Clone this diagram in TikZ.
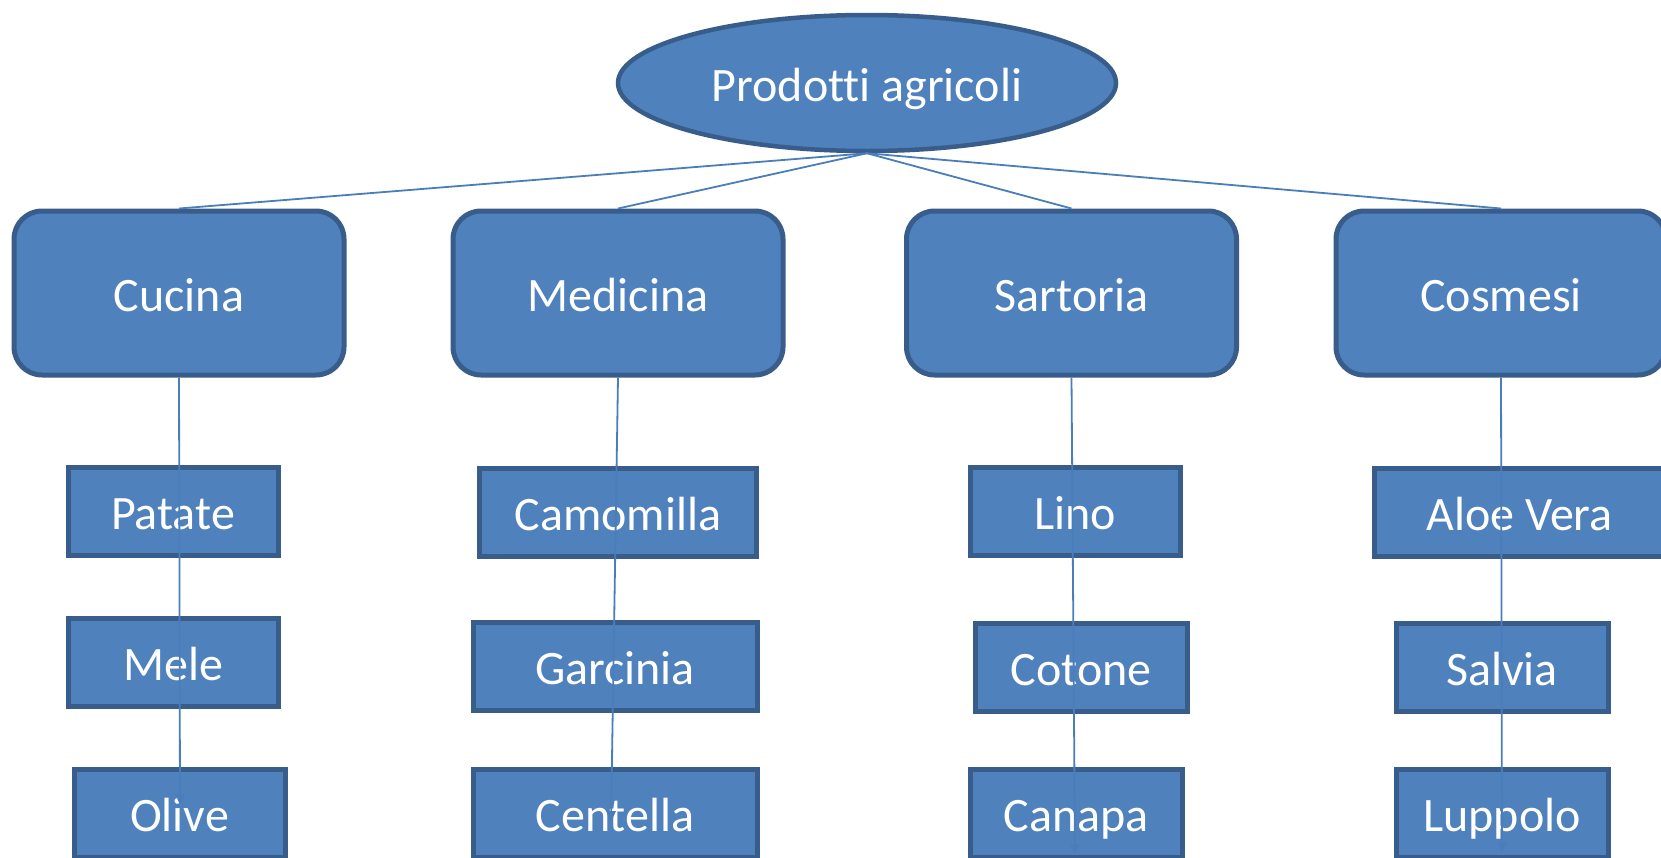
\documentclass[tikz,border=0pt]{standalone}
\usepackage{fontspec}
\setmainfont{Carlito}[Ligatures=NoCommon]
\usetikzlibrary{shapes.geometric,arrows.meta}
\definecolor{boxfill}{HTML}{4F81BD}
\definecolor{boxline}{HTML}{385D8A}
\definecolor{conn}{HTML}{4A7EBB}
\tikzset{
  txt/.style={text=white, font=\fontsize{48}{58}\selectfont, inner sep=0pt, text height=46pt, text depth=10pt},
  rootnode/.style={txt, ellipse, draw=boxline, fill=boxfill, line width=4.5pt},
  catbox/.style={txt, rectangle, rounded corners=28pt, draw=boxline, fill=boxfill, line width=5pt, minimum width=330pt, minimum height=164pt},
  itembox/.style={txt, rectangle, draw=boxline, fill=boxfill, line width=5pt, minimum height=88pt},
  link/.style={draw=conn, line width=1.8pt},
  arrowlink/.style={link, -{Triangle[width=9pt,length=11pt]}}
}
\begin{document}
\begin{tikzpicture}[x=1pt,y=-1pt]
\useasboundingbox (0,0) rectangle (1661,857);
\clip (0,0) rectangle (1661,857);
\fill[white] (0,0) rectangle (1661,857);
% root
\node[rootnode, minimum width=498pt, minimum height=136pt] (root) at (867,83) {Prodotti agricoli};
% categories
\node[catbox] (cucina) at (179,293) {Cucina};
\node[catbox] (medicina) at (618,293) {Medicina};
\node[catbox] (sartoria) at (1071.5,293) {Sartoria};
\node[catbox] (cosmesi) at (1501,293) {Cosmesi};
% items
\node[itembox, minimum width=210pt] (patate) at (173,511.5) {Patate};
\node[itembox, minimum width=210pt] (mele) at (173,662) {Mele};
\node[itembox, minimum width=211pt] (olive) at (179.5,813.5) {Olive};
\node[itembox, minimum width=277pt] (camomilla) at (618,512.5) {Camomilla};
\node[itembox, minimum width=284pt] (garcinia) at (615,666.5) {Garcinia};
\node[itembox, minimum width=284pt] (centella) at (615,813.5) {Centella};
\node[itembox, minimum width=210pt] (lino) at (1075,511.5) {Lino};
\node[itembox, minimum width=212pt] (cotone) at (1081,667.5) {Cotone};
\node[itembox, minimum width=212pt] (canapa) at (1076,813.5) {Canapa};
\node[itembox, minimum width=291pt] (aloe) at (1519.5,512) {Aloe Vera};
\node[itembox, minimum width=212pt] (salvia) at (1502,667.5) {Salvia};
\node[itembox, minimum width=212pt] (luppolo) at (1502,813.5) {Luppolo};
% connector ends
\coordinate (tipA) at (180,805);
\coordinate (tipB) at (611,822);
\coordinate (tipC) at (1075,855);
\coordinate (tipD) at (1502,853);
% connectors
\draw[link] (root.south) -- (cucina.north);
\draw[link] (root.south) -- (medicina.north);
\draw[link] (root.south) -- (sartoria.north);
\draw[link] (root.south) -- (cosmesi.north);
\draw[arrowlink] (cucina.south) -- (tipA);
\draw[arrowlink] (medicina.south) -- (tipB);
\draw[arrowlink] (sartoria.south) -- (tipC);
\draw[arrowlink] (cosmesi.south) -- (tipD);
\end{tikzpicture}
\end{document}
